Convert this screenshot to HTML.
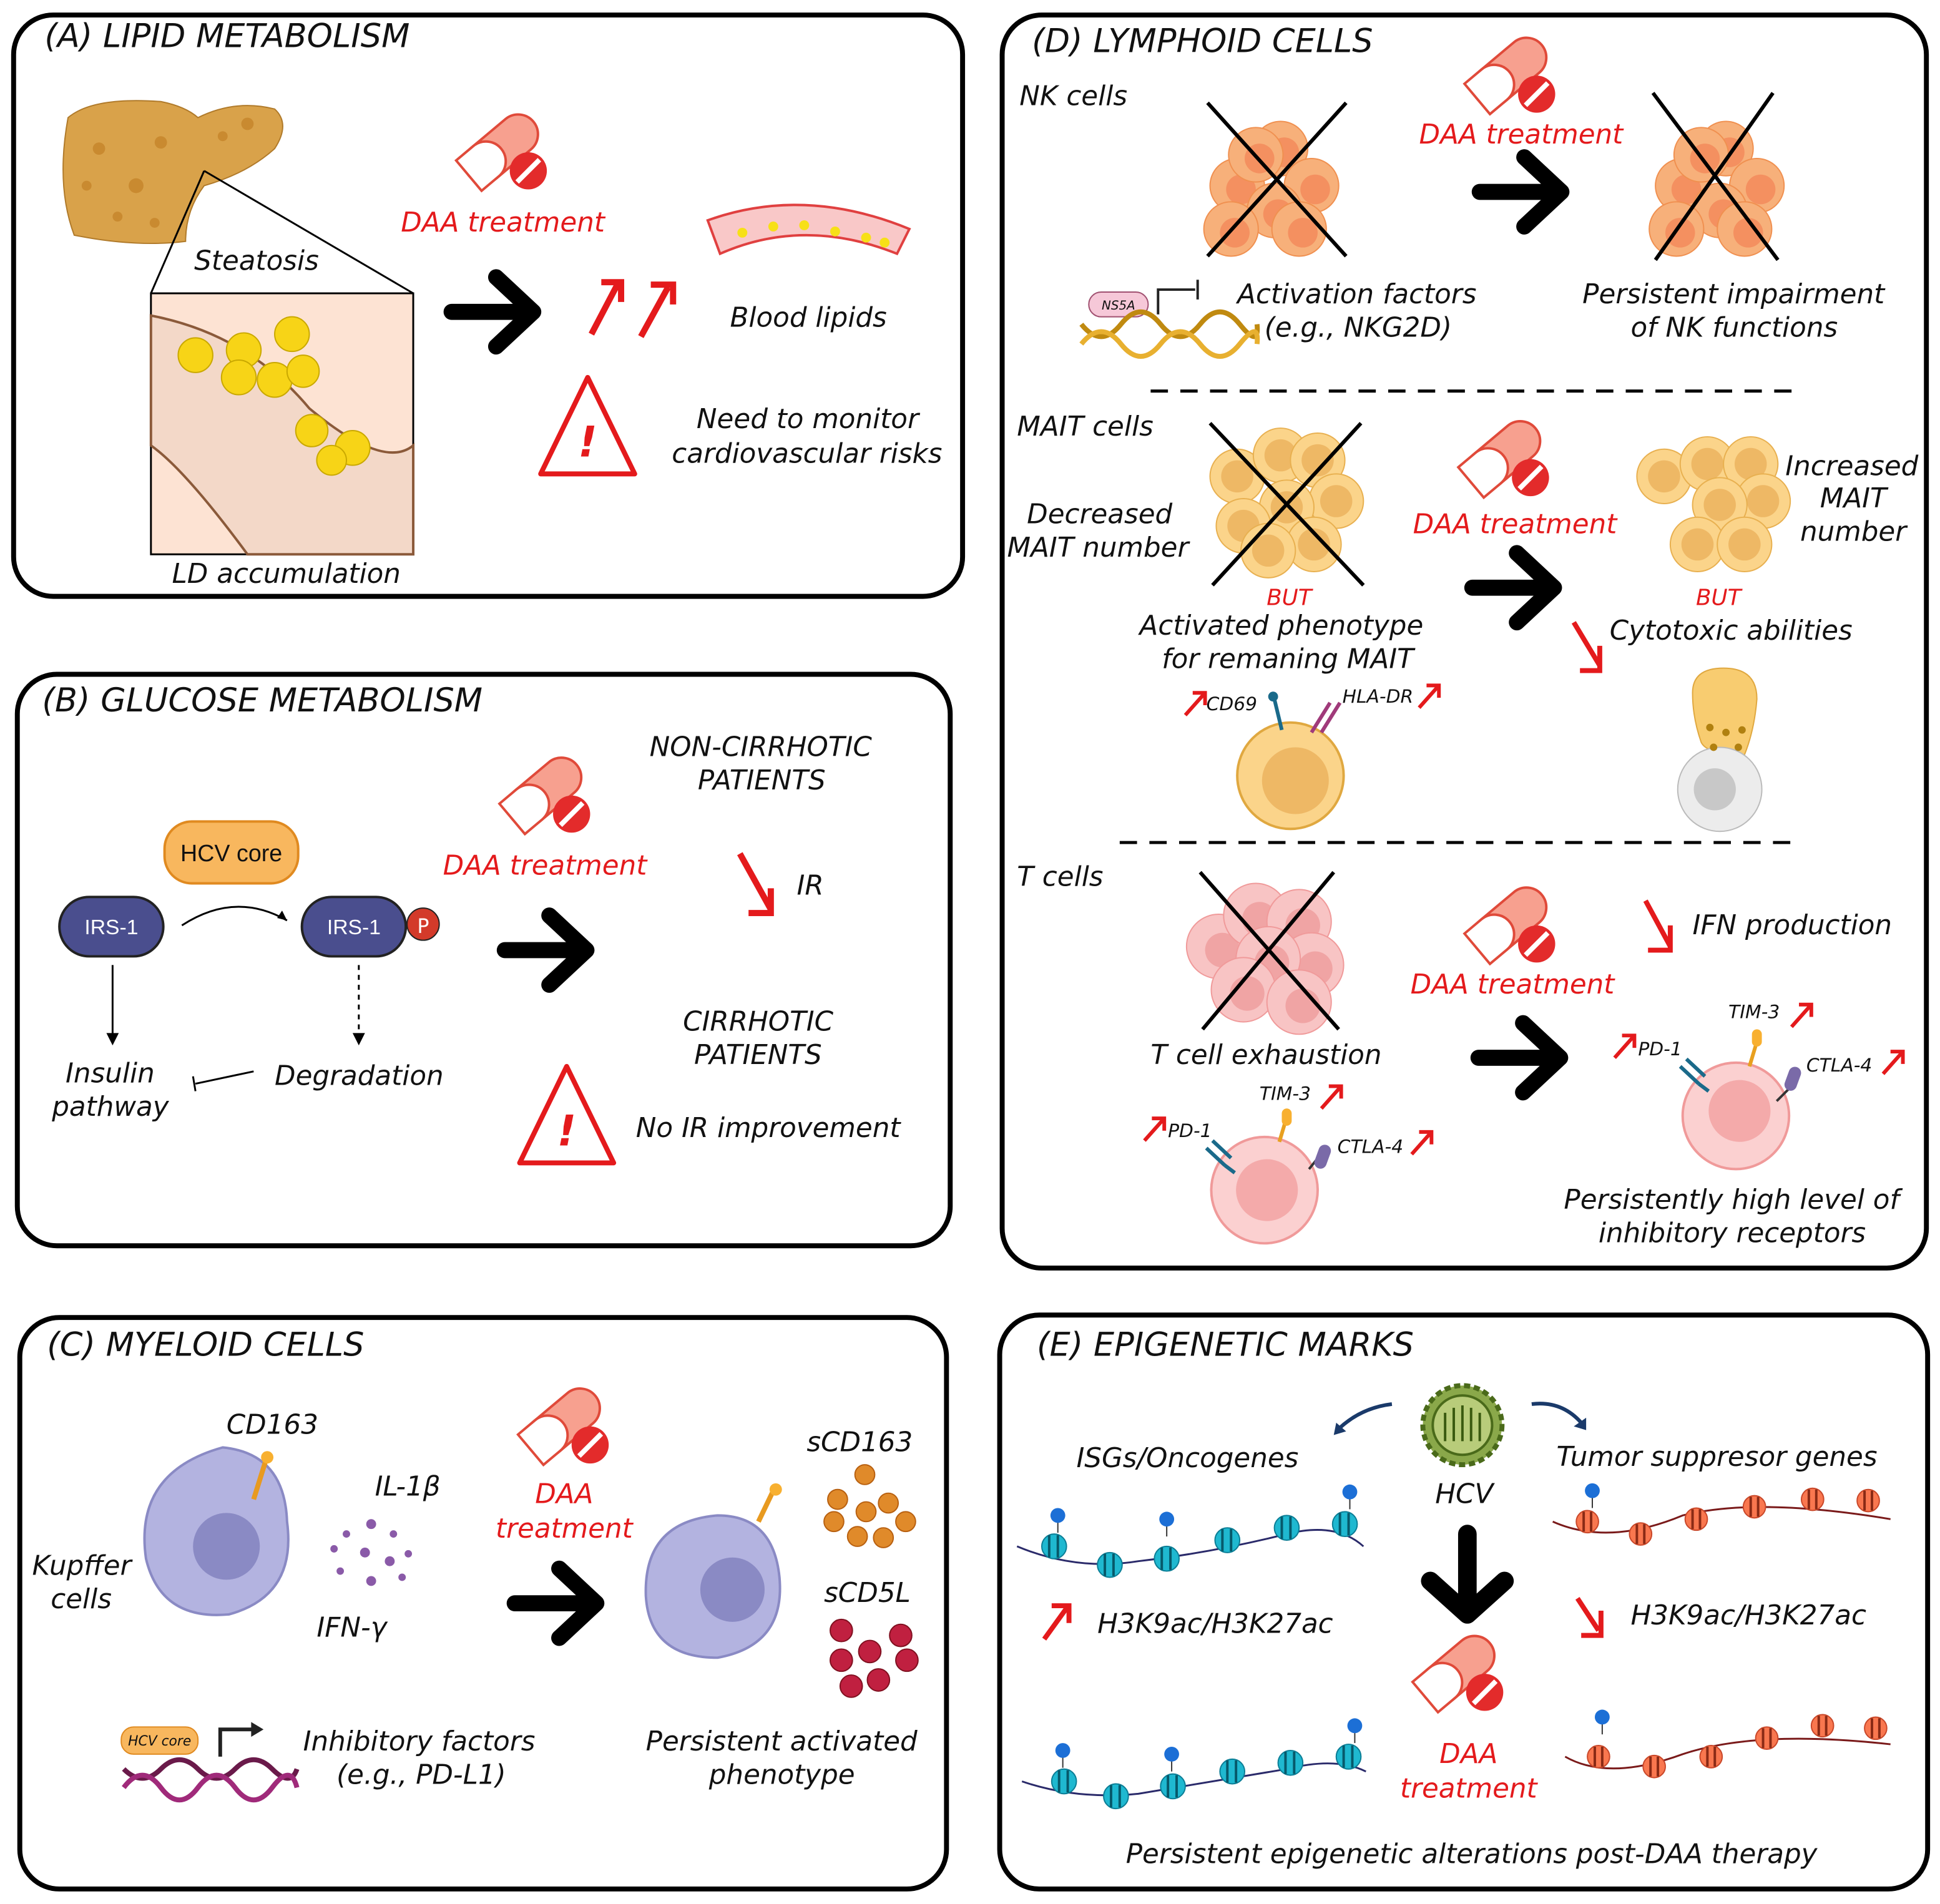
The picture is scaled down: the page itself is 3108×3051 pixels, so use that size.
<!DOCTYPE html>
<html><head><meta charset="utf-8"><style>
html,body{margin:0;padding:0;background:#fff}
svg{display:block}
text{font-family:"DejaVu Sans","Liberation Sans",sans-serif;font-style:italic;font-size:22px;fill:#111}
.t{font-size:26.5px}
.r{fill:#e41a1c}
.n{font-style:normal}
</style></head><body>
<svg width="3108" height="3051" viewBox="0 0 1568 1539" xmlns="http://www.w3.org/2000/svg">
<defs>
<g id="pill">
 <g transform="rotate(-40)">
  <rect x="-34" y="-16" width="68" height="32" rx="16" fill="#f7a08f" stroke="#e04a3a" stroke-width="2"/>
  <path d="M0,-16 H18 A16,16 0 0 1 18,16 H0 Z" fill="#fff" stroke="#e04a3a" stroke-width="2" transform="translate(-34,0) scale(1)" />
 </g>
 <circle cx="22" cy="18" r="15" fill="#e32b2b"/>
 <line x1="13" y1="27" x2="31" y2="9" stroke="#fff" stroke-width="4"/>
</g>
<g id="arr"><path d="M0,0 H62 M36,-28 L66,0 L36,28" fill="none" stroke="#000" stroke-width="13" stroke-linejoin="round" stroke-linecap="round"/></g>
<g id="ru"><path d="M0,20 L16,2 M6,2 H16 V12" fill="none" stroke="#e41a1c" stroke-width="3"/></g>
<g id="warn"><path d="M38,0 L76,78 H0 Z" fill="#fff" stroke="#e41a1c" stroke-width="4" stroke-linejoin="round"/><text x="38" y="64" text-anchor="middle" class="r n" style="font-size:34px;font-weight:bold;font-style:italic">!</text></g>
<g id="nk"><circle cx="0" cy="0" r="22" fill="#f7b07a" stroke="#f09050"/><circle cx="3" cy="3" r="12" fill="#f49060"/></g>
<g id="mait"><circle cx="0" cy="0" r="22" fill="#fbd48a" stroke="#e8b050"/><circle cx="0" cy="0" r="13" fill="#eeb865"/></g>
<g id="tc"><circle cx="0" cy="0" r="26" fill="#f8c4c4" stroke="#f09a9a"/><circle cx="3" cy="3" r="14" fill="#f0a4a4"/></g>
<g id="nuc"><circle r="10" fill="#1fb8d0" stroke="#0c7e96"/><line x1="-4" y1="-9" x2="-4" y2="9" stroke="#06596b" stroke-width="2"/><line x1="3" y1="-9" x2="3" y2="9" stroke="#06596b" stroke-width="2"/></g>
<g id="nuo"><circle r="9" fill="#f9774f" stroke="#c9482a"/><line x1="-3" y1="-8" x2="-3" y2="8" stroke="#8a2a15" stroke-width="2"/><line x1="3" y1="-8" x2="3" y2="8" stroke="#8a2a15" stroke-width="2"/></g>
<g id="ac"><line x1="0" y1="0" x2="0" y2="14" stroke="#333"/><circle r="6" fill="#1c6fd6"/></g>
</defs>

<g fill="none" stroke="#000" stroke-width="4">
<rect x="11" y="12" width="767" height="470" rx="32"/>
<rect x="14" y="545" width="754" height="462" rx="32"/>
<rect x="16" y="1065" width="749" height="462" rx="32"/>
<rect x="810" y="12" width="747" height="1013" rx="32"/>
<rect x="808" y="1063" width="750" height="464" rx="32"/>
</g>

<!-- A -->
<text x="36" y="38" class="t">(A) LIPID METABOLISM</text>
<path d="M55,95 Q75,78 130,82 Q150,86 160,95 Q190,80 222,88 Q235,100 222,120 Q200,140 165,150 Q150,170 150,195 Q110,200 60,190 Q45,150 55,95Z" fill="#d9a24a" stroke="#b07a2a"/>
<g fill="#c98a30"><circle cx="80" cy="120" r="5"/><circle cx="110" cy="150" r="6"/><circle cx="95" cy="175" r="4"/><circle cx="130" cy="115" r="5"/><circle cx="180" cy="110" r="4"/><circle cx="200" cy="100" r="5"/><circle cx="70" cy="150" r="4"/><circle cx="125" cy="180" r="4"/></g>
<line x1="165" y1="138" x2="122" y2="237" stroke="#000" stroke-width="1.5"/><line x1="165" y1="138" x2="334" y2="237" stroke="#000" stroke-width="1.5"/>
<rect x="122" y="237" width="212" height="211" fill="#fde3d3" stroke="#000" stroke-width="1.5"/>
<path d="M122,255 Q200,270 250,330 Q310,380 334,360 V448 H200 Q150,380 122,360Z" fill="#f3d8c8" stroke="#8b5a3a" stroke-width="2"/>
<g fill="#f7d417" stroke="#c9a800"><circle cx="158" cy="287" r="14"/><circle cx="197" cy="283" r="14"/><circle cx="236" cy="270" r="14"/><circle cx="222" cy="307" r="14"/><circle cx="193" cy="305" r="14"/><circle cx="245" cy="300" r="13"/><circle cx="252" cy="348" r="13"/><circle cx="285" cy="362" r="14"/><circle cx="268" cy="372" r="12"/></g>
<text x="157" y="218">Steatosis</text>
<text x="139" y="471">LD accumulation</text>
<use href="#pill" x="405" y="120"/>
<text x="324" y="187" class="r">DAA treatment</text>
<use href="#arr" x="365" y="252"/>
<path d="M478,270 L500,228 M486,228 H502 V244 M518,272 L540,232 M526,230 H544 V246" fill="none" stroke="#e41a1c" stroke-width="5"/>
<path d="M572,178 Q650,150 735,185 L725,205 Q650,175 582,205Z" fill="#f9c8c8" stroke="#e04040" stroke-width="2"/>
<g fill="#f7e017"><circle cx="600" cy="188" r="4"/><circle cx="625" cy="183" r="4"/><circle cx="650" cy="182" r="4"/><circle cx="675" cy="187" r="4"/><circle cx="700" cy="192" r="4"/><circle cx="715" cy="196" r="4"/></g>
<text x="590" y="264">Blood lipids</text>
<use href="#warn" x="437" y="305"/>
<text x="563" y="346">Need to monitor</text>
<text x="543" y="374">cardiovascular risks</text>

<!-- B -->
<text x="34" y="575" class="t">(B) GLUCOSE METABOLISM</text>
<rect x="133" y="664" width="108" height="50" rx="22" fill="#f8b75e" stroke="#e08a20" stroke-width="2"/>
<text x="187" y="696" text-anchor="middle" class="n" style="font-family:'Liberation Sans';font-size:19px">HCV core</text>
<rect x="48" y="725" width="84" height="48" rx="24" fill="#4a4e8e" stroke="#222" stroke-width="2"/>
<text x="90" y="755" text-anchor="middle" class="n" style="font-family:'Liberation Sans';font-size:17px;fill:#fff">IRS-1</text>
<rect x="244" y="725" width="84" height="48" rx="24" fill="#4a4e8e" stroke="#222" stroke-width="2"/>
<text x="286" y="755" text-anchor="middle" class="n" style="font-family:'Liberation Sans';font-size:17px;fill:#fff">IRS-1</text>
<circle cx="342" cy="747" r="13" fill="#d33a2a" stroke="#222"/><text x="342" y="754" text-anchor="middle" class="n" style="font-size:16px;fill:#fff">P</text>
<path d="M147,748 Q190,720 232,744" fill="none" stroke="#000" stroke-width="1.5"/><path d="M232,744 l-8,-2 l4,-6z"/>
<line x1="91" y1="780" x2="91" y2="838" stroke="#000" stroke-width="1.5"/><path d="M86,835 l5,10 l5,-10z"/>
<line x1="290" y1="780" x2="290" y2="838" stroke="#000" stroke-width="1.5" stroke-dasharray="4,4"/><path d="M285,835 l5,10 l5,-10z"/>
<text x="53" y="875">Insulin</text><text x="42" y="902">pathway</text>
<text x="222" y="877">Degradation</text>
<line x1="205" y1="866" x2="158" y2="876" stroke="#000" stroke-width="1.5"/><line x1="156" y1="870" x2="158" y2="882" stroke="#000" stroke-width="1.5"/>
<use href="#pill" x="440" y="640"/>
<text x="358" y="707" class="r">DAA treatment</text>
<use href="#arr" x="408" y="768"/>
<text x="525" y="611">NON-CIRRHOTIC</text><text x="564" y="638">PATIENTS</text>
<path d="M598,690 L623,735 M623,718 V738 H605" fill="none" stroke="#e41a1c" stroke-width="5"/>
<text x="644" y="723">IR</text>
<text x="552" y="833">CIRRHOTIC</text><text x="561" y="860">PATIENTS</text>
<use href="#warn" x="420" y="862"/>
<text x="514" y="919">No IR improvement</text>

<!-- C -->
<text x="38" y="1096" class="t">(C) MYELOID CELLS</text>
<path d="M180,1170 Q230,1175 232,1230 Q240,1290 185,1305 Q130,1310 118,1260 Q108,1190 180,1170Z" fill="#b3b3e0" stroke="#8a8ac4" stroke-width="2"/>
<circle cx="183" cy="1250" r="27" fill="#8a8ac4"/>
<line x1="205" y1="1212" x2="215" y2="1180" stroke="#e89a20" stroke-width="4"/><circle cx="216" cy="1178" r="5" fill="#f8b030"/>
<text x="183" y="1159">CD163</text>
<text x="26" y="1273">Kupffer</text><text x="41" y="1300">cells</text>
<g fill="#8a5aa8"><circle cx="280" cy="1240" r="3"/><circle cx="300" cy="1232" r="4"/><circle cx="318" cy="1240" r="3"/><circle cx="295" cy="1255" r="4"/><circle cx="315" cy="1262" r="4"/><circle cx="275" cy="1270" r="3"/><circle cx="300" cy="1278" r="4"/><circle cx="330" cy="1256" r="3"/><circle cx="270" cy="1252" r="3"/><circle cx="325" cy="1275" r="3"/></g>
<text x="303" y="1209">IL-1β</text>
<text x="256" y="1323">IFN-γ</text>
<use href="#pill" x="455" y="1150"/>
<text x="456" y="1215" class="r" text-anchor="middle">DAA</text><text x="456" y="1243" class="r" text-anchor="middle">treatment</text>
<use href="#arr" x="416" y="1296"/>
<path d="M580,1225 Q625,1225 630,1275 Q635,1330 580,1340 Q525,1340 522,1290 Q520,1230 580,1225Z" fill="#b3b3e0" stroke="#8a8ac4" stroke-width="2"/>
<circle cx="592" cy="1285" r="26" fill="#8a8ac4"/>
<line x1="613" y1="1230" x2="625" y2="1205" stroke="#e89a20" stroke-width="4"/><circle cx="627" cy="1204" r="5" fill="#f8b030"/>
<text x="652" y="1173">sCD163</text>
<g fill="#e08a2a" stroke="#b86010"><circle cx="699" cy="1192" r="8"/><circle cx="677" cy="1212" r="8"/><circle cx="718" cy="1215" r="8"/><circle cx="700" cy="1222" r="8"/><circle cx="674" cy="1230" r="8"/><circle cx="693" cy="1242" r="8"/><circle cx="714" cy="1243" r="8"/><circle cx="732" cy="1230" r="8"/></g>
<text x="666" y="1295">sCD5L</text>
<g fill="#c02040" stroke="#801020"><circle cx="680" cy="1318" r="9"/><circle cx="703" cy="1335" r="9"/><circle cx="728" cy="1322" r="9"/><circle cx="680" cy="1342" r="9"/><circle cx="710" cy="1358" r="9"/><circle cx="733" cy="1342" r="9"/><circle cx="688" cy="1363" r="9"/></g>
<rect x="98" y="1396" width="62" height="22" rx="10" fill="#f8b75e" stroke="#e08a20"/>
<text x="129" y="1411" text-anchor="middle" style="font-size:11px">HCV core</text>
<path d="M178,1420 V1398 H205" fill="none" stroke="#222" stroke-width="3"/><path d="M203,1392 l10,6 l-10,6z" fill="#222"/>
<path d="M100,1430 Q115,1445 130,1430 T160,1430 T190,1430 T220,1430 T240,1430" fill="none" stroke="#6a1a4a" stroke-width="4"/>
<path d="M100,1445 Q115,1425 130,1445 T160,1445 T190,1445 T220,1445 T240,1445" fill="none" stroke="#a02a7a" stroke-width="4"/>
<text x="245" y="1415">Inhibitory factors</text><text x="272" y="1442">(e.g., PD-L1)</text>
<text x="522" y="1415">Persistent activated</text><text x="573" y="1442">phenotype</text>

<!-- D -->
<text x="834" y="42" class="t">(D) LYMPHOID CELLS</text>
<text x="824" y="85">NK cells</text>
<g><use href="#nk" x="1000" y="150"/><use href="#nk" x="1035" y="120"/><use href="#nk" x="1060" y="150"/><use href="#nk" x="1030" y="170"/><use href="#nk" x="995" y="185"/><use href="#nk" x="1050" y="185"/><use href="#nk" x="1015" y="125"/></g>
<path d="M976,83 L1088,207 M1088,83 L976,207" stroke="#000" stroke-width="3"/>
<use href="#pill" x="1220" y="58"/>
<text x="1147" y="116" class="r">DAA treatment</text>
<use href="#arr" x="1196" y="155"/>
<g><use href="#nk" x="1360" y="150"/><use href="#nk" x="1395" y="120"/><use href="#nk" x="1420" y="150"/><use href="#nk" x="1390" y="170"/><use href="#nk" x="1355" y="185"/><use href="#nk" x="1410" y="185"/><use href="#nk" x="1375" y="125"/></g>
<path d="M1336,75 L1437,210 M1433,75 L1338,210" stroke="#000" stroke-width="3"/>
<rect x="880" y="236" width="48" height="20" rx="10" fill="#f6c8d8" stroke="#a05070"/><text x="904" y="250" text-anchor="middle" style="font-size:10px">NS5A</text>
<path d="M936,254 V234 H966 M968,226 V242" fill="none" stroke="#222" stroke-width="2"/>
<path d="M874,262 Q890,282 906,262 T938,262 T970,262 T1002,262 T1016,262" fill="none" stroke="#c08a10" stroke-width="4"/>
<path d="M874,278 Q890,258 906,278 T938,278 T970,278 T1002,278 T1016,278" fill="none" stroke="#e8b030" stroke-width="4"/>
<text x="1000" y="245">Activation factors</text><text x="1022" y="272">(e.g., NKG2D)</text>
<text x="1279" y="245">Persistent impairment</text><text x="1318" y="272">of NK functions</text>
<line x1="930" y1="316" x2="1455" y2="316" stroke="#000" stroke-width="2.5" stroke-dasharray="14,10"/>
<text x="822" y="352">MAIT cells</text>
<g><use href="#mait" x="1000" y="385"/><use href="#mait" x="1035" y="368"/><use href="#mait" x="1065" y="372"/><use href="#mait" x="1080" y="405"/><use href="#mait" x="1040" y="410"/><use href="#mait" x="1005" y="425"/><use href="#mait" x="1062" y="440"/><use href="#mait" x="1025" y="445"/></g>
<path d="M978,342 L1102,473 M1100,342 L980,473" stroke="#000" stroke-width="3"/>
<text x="830" y="423">Decreased</text><text x="814" y="450">MAIT number</text>
<text x="1042" y="489" text-anchor="middle" class="r" style="font-size:18px">BUT</text>
<text x="921" y="513">Activated phenotype</text><text x="939" y="540">for remaning MAIT</text>
<use href="#pill" x="1215" y="368"/>
<text x="1142" y="431" class="r">DAA treatment</text>
<use href="#arr" x="1190" y="475"/>
<g><use href="#mait" x="1345" y="385"/><use href="#mait" x="1380" y="375"/><use href="#mait" x="1415" y="375"/><use href="#mait" x="1425" y="405"/><use href="#mait" x="1390" y="408"/><use href="#mait" x="1372" y="440"/><use href="#mait" x="1410" y="440"/></g>
<text x="1443" y="384">Increased</text><text x="1471" y="410">MAIT</text><text x="1455" y="437">number</text>
<text x="1389" y="489" text-anchor="middle" class="r" style="font-size:18px">BUT</text>
<path d="M1272,503 L1293,538 M1293,522 V542 H1277" fill="none" stroke="#e41a1c" stroke-width="4"/>
<text x="1301" y="517">Cytotoxic abilities</text>
<path d="M1368,560 Q1368,540 1393,540 Q1420,540 1420,565 Q1418,590 1410,610 Q1380,610 1375,600 Q1368,580 1368,560Z" fill="#f8cc70" stroke="#e0a840"/>
<circle cx="1390" cy="638" r="34" fill="#ececec" stroke="#bbb"/><circle cx="1386" cy="638" r="17" fill="#c8c8c8"/>
<g fill="#b08010"><circle cx="1382" cy="588" r="3"/><circle cx="1395" cy="592" r="3"/><circle cx="1405" cy="604" r="3"/><circle cx="1385" cy="604" r="3"/><circle cx="1408" cy="590" r="3"/></g>
<circle cx="1043" cy="627" r="43" fill="#fbd48a" stroke="#e0a840" stroke-width="2"/><circle cx="1047" cy="631" r="27" fill="#eeb865"/>
<line x1="1036" y1="590" x2="1030" y2="565" stroke="#1a6a8a" stroke-width="3"/><circle cx="1029" cy="563" r="4" fill="#1a6a8a"/>
<path d="M1060,592 L1075,568 M1068,592 L1083,568" stroke="#a03a7a" stroke-width="3"/>
<use href="#ru" x="958" y="558"/><text x="975" y="574" style="font-size:15px">CD69</text>
<text x="1085" y="568" style="font-size:15px">HLA-DR</text><use href="#ru" x="1147" y="552"/>
<line x1="905" y1="681" x2="1455" y2="681" stroke="#000" stroke-width="2.5" stroke-dasharray="14,10"/>
<text x="822" y="716">T cells</text>
<g><use href="#tc" x="985" y="765"/><use href="#tc" x="1015" y="740"/><use href="#tc" x="1050" y="745"/><use href="#tc" x="1060" y="780"/><use href="#tc" x="1025" y="775"/><use href="#tc" x="1005" y="800"/><use href="#tc" x="1050" y="810"/></g>
<path d="M970,705 L1082,832 M1078,705 L972,832" stroke="#000" stroke-width="3"/>
<text x="930" y="860">T cell exhaustion</text>
<circle cx="1022" cy="962" r="43" fill="#fbd0d0" stroke="#f09a9a" stroke-width="2"/><circle cx="1024" cy="962" r="25" fill="#f4aaaa"/>
<path d="M975,928 L990,942 M980,922 L995,936 M990,942 L998,948" stroke="#1a6a8a" stroke-width="3"/>
<line x1="1034" y1="923" x2="1040" y2="903" stroke="#e8a020" stroke-width="3"/><rect x="1036" y="896" width="8" height="14" rx="4" fill="#f8b030"/>
<line x1="1058" y1="945" x2="1066" y2="935" stroke="#333" stroke-width="2"/><rect x="1064" y="925" width="10" height="20" rx="5" fill="#7a6aa8" transform="rotate(20 1069 935)"/>
<use href="#ru" x="925" y="902"/><text x="944" y="919" style="font-size:15px">PD-1</text>
<text x="1018" y="889" style="font-size:15px">TIM-3</text><use href="#ru" x="1068" y="876"/>
<text x="1081" y="932" style="font-size:15px">CTLA-4</text><use href="#ru" x="1141" y="913"/>
<use href="#pill" x="1220" y="745"/>
<text x="1140" y="803" class="r">DAA treatment</text>
<use href="#arr" x="1195" y="855"/>
<path d="M1330,728 L1350,765 M1350,748 V768 H1332" fill="none" stroke="#e41a1c" stroke-width="4"/>
<text x="1368" y="755">IFN production</text>
<circle cx="1403" cy="902" r="43" fill="#fbd0d0" stroke="#f09a9a" stroke-width="2"/><circle cx="1406" cy="898" r="25" fill="#f4aaaa"/>
<path d="M1358,862 L1373,876 M1363,856 L1378,870 M1373,876 L1381,882" stroke="#1a6a8a" stroke-width="3"/>
<line x1="1414" y1="862" x2="1420" y2="842" stroke="#e8a020" stroke-width="3"/><rect x="1416" y="832" width="8" height="14" rx="4" fill="#f8b030"/>
<line x1="1436" y1="890" x2="1446" y2="880" stroke="#333" stroke-width="2"/><rect x="1444" y="862" width="10" height="20" rx="5" fill="#7a6aa8" transform="rotate(20 1449 872)"/>
<use href="#ru" x="1305" y="835"/><text x="1324" y="853" style="font-size:15px">PD-1</text>
<text x="1397" y="823" style="font-size:15px">TIM-3</text><use href="#ru" x="1448" y="810"/>
<text x="1460" y="866" style="font-size:15px">CTLA-4</text><use href="#ru" x="1522" y="848"/>
<text x="1264" y="977">Persistently high level of</text><text x="1292" y="1004">inhibitory receptors</text>

<!-- E -->
<text x="838" y="1096" class="t">(E) EPIGENETIC MARKS</text>
<circle cx="1182" cy="1152" r="32" fill="#8aa84a" stroke="#4a6a1a" stroke-width="4" stroke-dasharray="5,3"/>
<circle cx="1182" cy="1152" r="24" fill="#b8cc7a" stroke="#4a6a1a" stroke-width="2"/>
<path d="M1168,1165 V1142 M1175,1165 V1138 M1182,1165 V1136 M1189,1165 V1138 M1196,1165 V1142" stroke="#3a5a10" stroke-width="2"/>
<path d="M1125,1135 Q1100,1138 1082,1155" fill="none" stroke="#1a3a6a" stroke-width="3"/><path d="M1080,1150 l-2,10 l10,-3z" fill="#1a3a6a"/>
<path d="M1238,1135 Q1262,1132 1278,1150" fill="none" stroke="#1a3a6a" stroke-width="3"/><path d="M1282,1146 l0,10 l-10,-3z" fill="#1a3a6a"/>
<text x="1160" y="1215">HCV</text>
<text x="870" y="1186">ISGs/Oncogenes</text>
<text x="1258" y="1185">Tumor suppresor genes</text>
<path d="M822,1250 Q870,1270 920,1262 Q980,1255 1040,1240 Q1080,1230 1102,1250" fill="none" stroke="#2a2a6a" stroke-width="1.5"/>
<g><use href="#nuc" x="852" y="1250"/><use href="#nuc" x="897" y="1265"/><use href="#nuc" x="943" y="1260"/><use href="#nuc" x="992" y="1245"/><use href="#nuc" x="1040" y="1235"/><use href="#nuc" x="1087" y="1232"/></g>
<use href="#ac" x="855" y="1225"/><use href="#ac" x="943" y="1228"/><use href="#ac" x="1091" y="1206"/>
<path d="M844,1325 L862,1300 M850,1298 H864 V1312" fill="none" stroke="#e41a1c" stroke-width="4"/>
<text x="887" y="1320">H3K9ac/H3K27ac</text>
<path d="M1255,1230 Q1300,1250 1360,1225 Q1420,1210 1528,1228" fill="none" stroke="#7a1a1a" stroke-width="1.5"/>
<g><use href="#nuo" x="1283" y="1230"/><use href="#nuo" x="1326" y="1240"/><use href="#nuo" x="1371" y="1228"/><use href="#nuo" x="1418" y="1218"/><use href="#nuo" x="1465" y="1212"/><use href="#nuo" x="1510" y="1213"/></g>
<use href="#ac" x="1287" y="1205"/>
<path d="M1275,1292 L1292,1318 M1294,1302 V1322 H1278" fill="none" stroke="#e41a1c" stroke-width="4"/>
<text x="1318" y="1313">H3K9ac/H3K27ac</text>
<path d="M1186,1240 V1290 M1156,1278 L1186,1305 L1216,1278" fill="none" stroke="#000" stroke-width="15" stroke-linejoin="round" stroke-linecap="round"/>
<use href="#pill" x="1178" y="1350"/>
<text x="1187" y="1425" text-anchor="middle" class="r">DAA</text><text x="1187" y="1453" text-anchor="middle" class="r">treatment</text>
<path d="M826,1440 Q870,1455 920,1450 Q980,1440 1040,1430 Q1080,1420 1104,1432" fill="none" stroke="#2a2a6a" stroke-width="1.5"/>
<g><use href="#nuc" x="860" y="1440"/><use href="#nuc" x="902" y="1452"/><use href="#nuc" x="948" y="1444"/><use href="#nuc" x="996" y="1432"/><use href="#nuc" x="1043" y="1425"/><use href="#nuc" x="1090" y="1420"/></g>
<use href="#ac" x="859" y="1415"/><use href="#ac" x="947" y="1418"/><use href="#ac" x="1095" y="1395"/>
<path d="M1265,1420 Q1300,1440 1360,1418 Q1420,1398 1528,1410" fill="none" stroke="#7a1a1a" stroke-width="1.5"/>
<g><use href="#nuo" x="1292" y="1420"/><use href="#nuo" x="1337" y="1428"/><use href="#nuo" x="1383" y="1420"/><use href="#nuo" x="1428" y="1405"/><use href="#nuo" x="1473" y="1395"/><use href="#nuo" x="1516" y="1397"/></g>
<use href="#ac" x="1295" y="1388"/>
<text x="910" y="1506">Persistent epigenetic alterations post-DAA therapy</text>
</svg>
</body></html>
